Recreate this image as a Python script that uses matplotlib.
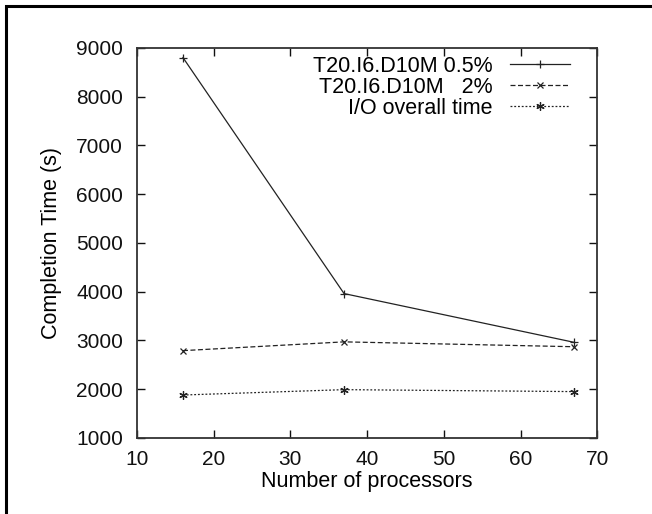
import numpy as np
import matplotlib.pyplot as plt
from matplotlib.patches import Rectangle

plt.rcParams['font.family'] = ['Liberation Sans', 'DejaVu Sans']

# data
procs = [16, 37, 67]
t_05 = [8800, 3960, 2960]
t_2 = [2790, 2970, 2870]
t_io = [1880, 1990, 1950]
labels = ['T20.I6.D10M 0.5%', 'T20.I6.D10M   2%', 'I/O overall time']

fig = plt.figure(figsize=(6.52, 5.14), dpi=100)
ax = fig.add_axes([0.210, 0.148, 0.706, 0.759])

# outer frame (only top/left visible in the crop)
fig.patches.append(Rectangle((0.009, -0.05), 1.2, 0.988 + 0.05, transform=fig.transFigure,
                             fill=False, lw=2.2, ec='black', zorder=0))

c = '#222222'
ax.plot(procs, t_05, '-', color=c, lw=0.9, marker='+', ms=6, mew=0.9, label=labels[0])
ax.plot(procs, t_2, '--', color=c, lw=0.9, dashes=(4, 2), marker='x', ms=5, mew=0.9, label=labels[1])
ax.plot(procs, t_io, ':', color=c, lw=0.9, dashes=(1.5, 1.5), marker=(6, 2, 0), ms=6, mew=0.9, label=labels[2])

ax.set_xlim(10, 70)
ax.set_ylim(1000, 9000)
ax.set_xticks(np.arange(10, 71, 10))
ax.set_yticks(np.arange(1000, 9001, 1000))
ax.tick_params(direction='in', top=True, right=True, length=6, width=1, labelsize=15, colors='#111111')
ax.tick_params(axis='x', pad=9)
ax.tick_params(axis='y', pad=10)
for s in ax.spines.values():
    s.set_linewidth(1.3)
    s.set_color('#333333')

ax.set_xlabel('Number of processors', fontsize=15.5, labelpad=1)
ax.set_ylabel('Completion Time (s)', fontsize=15.5, labelpad=10)

leg = ax.legend(loc='upper right', markerfirst=False, frameon=False, fontsize=15.5,
                handlelength=2.8, handletextpad=0.8, labelspacing=0.0,
                borderaxespad=0.3, bbox_to_anchor=(0.974, 1.018))
for t in leg.get_texts():
    t.set_ha('right')

fig.savefig('out.png', dpi=100)
